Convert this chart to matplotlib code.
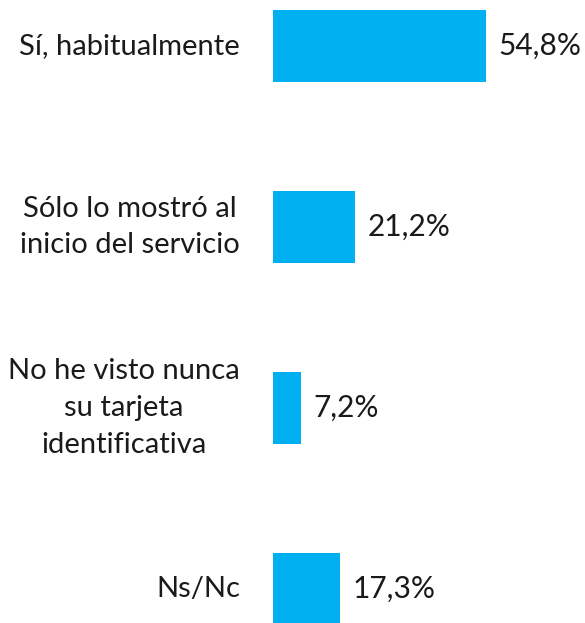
import matplotlib
matplotlib.use("Agg")
import matplotlib.pyplot as plt

categories = ["Sí, habitualmente", "Sólo lo mostró al\ninicio del servicio",
              "No he visto nunca\nsu tarjeta\nidentificativa", "Ns/Nc"]
values = [54.8, 21.2, 7.2, 17.3]
value_labels = ["54,8%", "21,2%", "7,2%", "17,3%"]

plt.rcParams['font.family'] = ['Lato', 'DejaVu Sans']
fig = plt.figure(figsize=(5.85, 6.23), dpi=100)
ax = fig.add_axes([273/585, 0, 1 - 273/585, 1])
ypos = list(range(len(values)))
ax.barh(ypos, values, height=0.4, color="#00B0F0", left=0)
ax.set_xlim(0, 312/3.887)
ax.set_ylim(3 + 34/181, -46/181)
ax.axis("off")
for y, v, lab, cat in zip(ypos, values, value_labels, categories):
    ax.text(v + 3.2, y, lab, va="center", ha="left", fontsize=21.5, color="#1a1a1a")
    ax.annotate(cat, xy=(0, y), xycoords="data", xytext=(-33, 0), textcoords="offset pixels",
                ha="right", va="center", fontsize=21, color="#1a1a1a", linespacing=1.52,
                multialignment="center", annotation_clip=False)
fig.savefig("out.png", dpi=100)
